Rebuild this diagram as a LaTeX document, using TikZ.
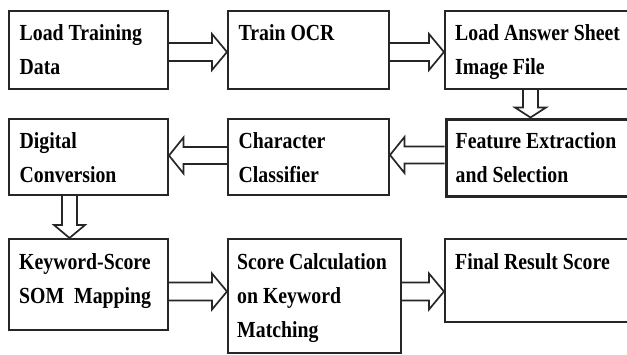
\documentclass[tikz,border=0pt]{standalone}
\usepackage{fontspec}
\newfontfamily\boxfont{Liberation Serif}[FakeStretch=0.86]
\usetikzlibrary{calc}
\newcommand\rarr[2]{\draw[blk] ([yshift=9]#1) -- ([shift={(-15,9)}]#2) -- ([shift={(-15,18)}]#2) -- (#2) -- ([shift={(-15,-18)}]#2) -- ([shift={(-15,-9)}]#2) -- ([yshift=-9]#1);}
\newcommand\larr[2]{\draw[blk] ([yshift=8.5]#1) -- ([shift={(14.5,8.5)}]#2) -- ([shift={(14.5,18)}]#2) -- (#2) -- ([shift={(14.5,-18)}]#2) -- ([shift={(14.5,-8.5)}]#2) -- ([yshift=-8.5]#1);}
\newcommand\darr[3]{\draw[blk] ([xshift=-7.5]#1) -- ([shift={(-7.5,#3)}]#2) -- ([shift={(-15.5,#3)}]#2) -- (#2) -- ([shift={(15.5,#3)}]#2) -- ([shift={(7.5,#3)}]#2) -- ([xshift=7.5]#1);}
\begin{document}
\begin{tikzpicture}[x=1pt,y=1pt,
  box/.style={draw=black!85, line width=2pt, inner sep=0pt},
  txt/.style={anchor=north west, inner sep=0pt, align=left, font=\boxfont\bfseries\fontsize{23}{34}\selectfont},
  blk/.style={draw=black!85, line width=1.7pt, line join=miter}]
\useasboundingbox (0,0) rectangle (627,-354);
\clip (0,0) rectangle (627,-354);
% boxes
\node[box, minimum width=159, minimum height=78] (b1) at (88.5,-50) {};
\node[box, minimum width=161, minimum height=78] (b2) at (308.5,-50) {};
\node[box, minimum width=195, minimum height=78] (b3) at (542.5,-50) {};
\node[box, minimum width=159, minimum height=76] (b4) at (88.5,-157) {};
\node[box, minimum width=161, minimum height=76] (b5) at (308.5,-157) {};
\node[box, line width=3pt, minimum width=194, minimum height=77] (b6) at (543,-157.5) {};
\node[box, minimum width=159, minimum height=91] (b7) at (88.5,-284.5) {};
\node[box, minimum width=173, minimum height=114] (b8) at (314.5,-296) {};
\node[box, minimum width=195, minimum height=83] (b9) at (542.5,-280.5) {};
% texts
\node[txt] (t1) at ([shift={(11.5,-14.5)}]b1.north west) {Load Training\\Data};
\node[txt] (t2) at ([shift={(11.5,-14.5)}]b2.north west) {Train OCR};
\node[txt] (t3) at ([shift={(11,-14.5)}]b3.north west) {Load Answer Sheet\\Image File};
\node[txt] (t4) at ([shift={(11.5,-14.5)}]b4.north west) {Digital\\Conversion};
\node[txt] (t5) at ([shift={(11.5,-14.5)}]b5.north west) {Character\\Classifier};
\node[txt] (t6) at ([shift={(11,-14.5)}]b6.north west) {Feature Extraction\\and Selection};
\node[txt] (t7) at ([shift={(11,-15)}]b7.north west) {Keyword-Score\\SOM\ \ Mapping};
\node[txt] (t8) at ([shift={(10,-15)}]b8.north west) {Score Calculation\\on Keyword\\Matching};
\node[txt] (t9) at ([shift={(11,-15)}]b9.north west) {Final Result Score};
% arrow end points
\coordinate (a1s) at ([yshift=-2]b1.east);  \coordinate (a1e) at (b2.west |- a1s);
\coordinate (a2s) at ([yshift=-2]b2.east);  \coordinate (a2e) at (b3.west |- a2s);
\coordinate (a3s) at ([xshift=-12]b3.south); \coordinate (a3e) at (a3s |- b6.north);
\coordinate (a4s) at ([yshift=2]b6.west |- b5.east); \coordinate (a4e) at (b5.east |- a4s);
\coordinate (a5s) at ([yshift=1.5]b5.west); \coordinate (a5e) at (b4.east |- a5s);
\coordinate (a6s) at ([xshift=-19]b4.south); \coordinate (a6e) at (a6s |- b7.north);
\coordinate (a7s) at ([yshift=-7]b7.east);  \coordinate (a7e) at (b8.west |- a7s);
\coordinate (a8s) at (b8.east |- a7s);      \coordinate (a8e) at (b9.west |- a8s);
% arrows
\rarr{a1s}{a1e}
\rarr{a2s}{a2e}
\darr{a3s}{a3e}{10}
\larr{a4s}{a4e}
\larr{a5s}{a5e}
\darr{a6s}{a6e}{13}
\rarr{a7s}{a7e}
\rarr{a8s}{a8e}
\end{tikzpicture}
\end{document}
